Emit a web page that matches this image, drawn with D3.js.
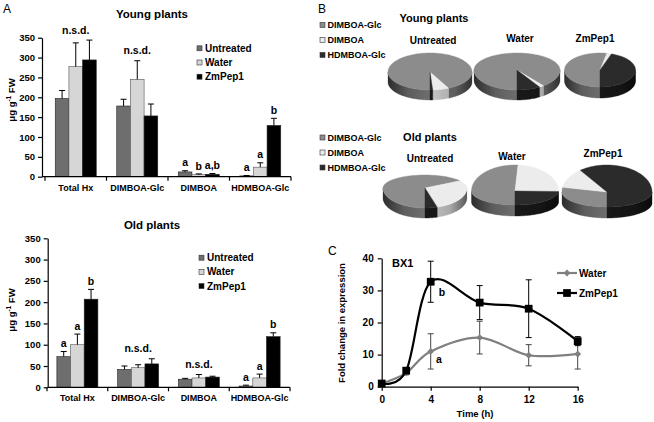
<!DOCTYPE html>
<html><head><meta charset="utf-8">
<script src="https://cdn.jsdelivr.net/npm/d3@7"></script>
<style>
body{margin:0;background:#fff}
svg{display:block}
text{font-family:"Liberation Sans",Arial,sans-serif;font-weight:bold;fill:#000}
</style>
</head><body>
<svg id="chart" width="654" height="422"></svg>
<script>
// ---------- DATA ----------
const categories = ["Total Hx", "DIMBOA-Glc", "DIMBOA", "HDMBOA-Glc"];
const treatments = ["Untreated", "Water", "ZmPep1"];
const yTicks = [0, 50, 100, 150, 200, 250, 300, 350];

const youngUntreated = [197, 178, 12, 2];
const youngUntreatedErr = [20, 17, 3, 1];
const youngWater = [277, 245, 5, 24];
const youngWaterErr = [60, 47, 2, 11];
const youngZmPep1 = [294, 153, 6, 129];
const youngZmPep1Err = [50, 30, 2, 18];
const youngLetters = ["n.s.d.", "n.s.d.", ["a", "b", "a,b"], ["a", "a", "b"]];

const oldUntreated = [72, 42, 19, 3];
const oldUntreatedErr = [12, 8, 2, 2];
const oldWater = [100, 46, 22, 22];
const oldWaterErr = [25, 7, 8, 9];
const oldZmPep1 = [207, 55, 24, 119];
const oldZmPep1Err = [23, 12, 2, 9];
const oldLetters = [["a", "a", "b"], "n.s.d.", "n.s.d.", ["a", "a", "b"]];

const pieComponents = ["DIMBOA-Glc", "DIMBOA", "HDMBOA-Glc"];

const hours = [0, 2, 4, 8, 12, 16];
const waterFold = [1, 4.3, 11, 15.3, 9.8, 10.2];
const waterFoldErr = [0.3, 0.6, 5.5, 5.1, 3.3, 4.7];
const zmFold = [1, 5, 32.7, 26.2, 24.3, 14.2];
const zmFoldErr = [0.3, 0.8, 6.4, 5.3, 9, 1.4];
const foldTicks = [0, 10, 20, 30, 40];
const hourTicks = [0, 4, 8, 12, 16];

// ---------- STYLE ----------
const barColors = ["#6e6e6e", "#d6d6d6", "#000000"];
const pieColors = ["#8c8c8c", "#ececec", "#2b2b2b"];
const sideColors = ["#6e6e6e", "#c6c6c6", "#181818"];

const svg = d3.select("#chart");
svg.append("rect").attr("width", 654).attr("height", 422).attr("fill", "#fff");

function styleAxis(g, fs) {
  g.attr("font-size", fs);
  g.selectAll("text").attr("font-size", fs);
  g.selectAll("path,line").attr("stroke", "#000").attr("stroke-width", 1.2);
}

// ---------- PANEL A ----------
function barPanel(cfg) {
  const y = d3.scaleLinear().domain([0, 350]).range([cfg.y0, cfg.yTop]);
  const x = d3.scaleBand().domain(categories).range(cfg.xRange);
  const groupW = 41;
  const xs = d3.scaleBand().domain(treatments).range([0, groupW]);
  const off = (x.bandwidth() - groupW) / 2;
  const g = svg.append("g");
  const barX = (ci, ti) => x(categories[ci]) + off + xs(treatments[ti]);

  cfg.series.forEach((vals, ti) => {
    const errs = cfg.errs[ti];
    g.selectAll(null).data(vals).join("rect")
      .attr("x", (d, i) => barX(i, ti))
      .attr("y", d => y(d))
      .attr("width", xs.bandwidth())
      .attr("height", d => y(0) - y(d))
      .attr("fill", barColors[ti])
      .attr("stroke", ti === 1 ? "#555" : "#222").attr("stroke-width", 0.6);
    const eg = g.selectAll(null).data(vals).join("g");
    eg.append("line")
      .attr("x1", (d, i) => barX(i, ti) + xs.bandwidth() / 2)
      .attr("x2", (d, i) => barX(i, ti) + xs.bandwidth() / 2)
      .attr("y1", d => y(d)).attr("y2", (d, i) => y(d + errs[i]))
      .attr("stroke", "#000").attr("stroke-width", 1);
    eg.append("line")
      .attr("x1", (d, i) => barX(i, ti) + xs.bandwidth() / 2 - 3)
      .attr("x2", (d, i) => barX(i, ti) + xs.bandwidth() / 2 + 3)
      .attr("y1", (d, i) => y(d + errs[i])).attr("y2", (d, i) => y(d + errs[i]))
      .attr("stroke", "#000").attr("stroke-width", 1);
  });

  // letters
  cfg.letters.forEach((L, ci) => {
    if (typeof L === "string") {
      const top = d3.min(cfg.series.map((s, ti) => y(s[ci] + cfg.errs[ti][ci])));
      g.append("text").attr("x", x(categories[ci]) + x.bandwidth() / 2).attr("y", top - 10)
        .attr("dy", "0.35em").attr("text-anchor", "middle").attr("font-size", 10.5).text(L);
    } else {
      L.forEach((t, ti) => {
        const v = cfg.series[ti][ci] + cfg.errs[ti][ci];
        g.append("text").attr("x", barX(ci, ti) + xs.bandwidth() / 2).attr("y", y(v) - 8)
          .attr("dy", "0.35em").attr("text-anchor", "middle").attr("font-size", 10.5).text(t);
      });
    }
  });

  // y axis
  g.append("g").attr("transform", `translate(${cfg.axisX},0)`)
    .call(d3.axisLeft(y).tickValues(yTicks).tickSize(4).tickSizeOuter(0).tickPadding(3))
    .call(a => styleAxis(a, 9.5));
  // x axis
  const xa = g.append("g").attr("transform", `translate(0,${cfg.y0})`);
  xa.append("line").attr("x1", cfg.axisX).attr("x2", cfg.xRange[1]).attr("y1", 0).attr("y2", 0)
    .attr("stroke", "#000").attr("stroke-width", 1.2);
  xa.selectAll(null).data(categories.concat(["_end"])).join("line")
    .attr("x1", (d, i) => i < categories.length ? x(d) : cfg.xRange[1])
    .attr("x2", (d, i) => i < categories.length ? x(d) : cfg.xRange[1])
    .attr("y1", 0).attr("y2", 4).attr("stroke", "#000").attr("stroke-width", 1.2);
  xa.selectAll(null).data(categories).join("text")
    .attr("x", d => x(d) + x.bandwidth() / 2).attr("y", 14)
    .attr("text-anchor", "middle").attr("font-size", 9).text(d => d);

  // y label
  const yl = g.append("text")
    .attr("transform", `translate(${cfg.ylabelX},${cfg.ylabelY}) rotate(-90)`)
    .attr("text-anchor", "middle").attr("font-size", 9.5);
  yl.append("tspan").text("μg g");
  yl.append("tspan").attr("font-size", 6.5).attr("dy", -4).text("-1");
  yl.append("tspan").attr("dy", 4).text(" FW");

  // title
  g.append("text").attr("x", 152).attr("y", cfg.titleY).attr("dy", "0.35em")
    .attr("text-anchor", "middle").attr("font-size", 11.5).text(cfg.title);

  // legend
  treatments.forEach((t, ti) => {
    const ly = cfg.legendY + ti * 14.2;
    g.append("rect").attr("x", cfg.legendX).attr("y", ly - 2.5).attr("width", 5).attr("height", 5)
      .attr("fill", barColors[ti]).attr("stroke", "#333").attr("stroke-width", 0.6);
    g.append("text").attr("x", cfg.legendX + 8).attr("y", ly).attr("dy", "0.35em")
      .attr("font-size", 10).text(t);
  });
}

barPanel({
  y0: 176.7, yTop: 37.7, axisX: 42, xRange: [45, 291],
  series: [youngUntreated, youngWater, youngZmPep1],
  errs: [youngUntreatedErr, youngWaterErr, youngZmPep1Err],
  letters: youngLetters, title: "Young plants", titleY: 14.3,
  legendX: 197, legendY: 48.3, ylabelX: 14.5, ylabelY: 100
});
barPanel({
  y0: 387.3, yTop: 238.3, axisX: 47.7, xRange: [47, 290],
  series: [oldUntreated, oldWater, oldZmPep1],
  errs: [oldUntreatedErr, oldWaterErr, oldZmPep1Err],
  letters: oldLetters, title: "Old plants", titleY: 224.5,
  legendX: 199, legendY: 257.7, ylabelX: 15, ylabelY: 310
});

svg.append("text").attr("x", 3).attr("y", 13).attr("font-size", 12).attr("font-weight", "normal")
  .style("font-weight", "normal").text("A");

// ---------- PANEL B ----------
const defs = svg.append("defs");
const grad = defs.append("linearGradient").attr("id", "shade").attr("x1", 0).attr("x2", 1).attr("y1", 0).attr("y2", 0);
[[0, 0.6], [0.25, 0.15], [0.5, 0], [0.8, 0.15], [1, 0.55]].forEach(([o, a]) =>
  grad.append("stop").attr("offset", o).attr("stop-color", "#000").attr("stop-opacity", a));

svg.append("text").attr("x", 318).attr("y", 13).attr("font-size", 12)
  .style("font-weight", "normal").text("B");

const pieGen = d3.pie().sort(null).startAngle(Math.PI).endAngle(3 * Math.PI);

function drawPie(p, vals) {
  const g = svg.append("g");
  const pt = (th, dy = 0) => {
    const c = Math.cos(th);
    return [p.cx + p.rx * Math.sin(th), p.cy - (c > 0 ? p.ryT : p.ryB) * c + dy];
  };
  const arcPts = (a, b, dy = 0) => {
    const n = Math.max(2, Math.ceil((b - a) / 0.03));
    return d3.range(n + 1).map(i => pt(a + (b - a) * i / n, dy));
  };
  const wallPath = (a, b) => {
    const top = arcPts(a, b), bot = arcPts(a, b, p.depth).reverse();
    return "M" + top.concat(bot).map(q => q.join(",")).join("L") + "Z";
  };
  const arcs = pieGen(vals);
  const fronts = [[Math.PI / 2, 1.5 * Math.PI], [2.5 * Math.PI, 3.5 * Math.PI]];
  arcs.forEach((a, i) => {
    fronts.forEach(([f0, f1]) => {
      const lo = Math.max(a.startAngle, f0), hi = Math.min(a.endAngle, f1);
      if (hi > lo) g.append("path").attr("d", wallPath(lo, hi))
        .attr("fill", sideColors[i]).attr("stroke", sideColors[i]).attr("stroke-width", 0.4);
    });
  });
  g.append("path").attr("d", wallPath(Math.PI / 2, 1.5 * Math.PI)).attr("fill", "url(#shade)");
  arcs.forEach((a, i) => {
    const pts = [[p.cx, p.cy]].concat(arcPts(a.startAngle, a.endAngle));
    g.append("path").attr("d", "M" + pts.map(q => q.join(",")).join("L") + "Z")
      .attr("fill", pieColors[i]).attr("stroke", pieColors[i]).attr("stroke-width", 0.4);
  });
  g.append("text").attr("x", p.lx).attr("y", p.ly).attr("dy", "0.35em")
    .attr("text-anchor", "middle").attr("font-size", 10).text(p.label);
}

const pies = [
  { label: "Untreated", lx: 433, ly: 40, cx: 430, cy: 72, rx: 42, ryT: 19, ryB: 18, depth: 10, vals: youngUntreated },
  { label: "Water", lx: 520, ly: 38, cx: 517, cy: 70, rx: 43, ryT: 17, ryB: 20, depth: 10, vals: youngWater },
  { label: "ZmPep1", lx: 595, ly: 38, cx: 600, cy: 70, rx: 35.5, ryT: 17, ryB: 17, depth: 11, vals: youngZmPep1 },
  { label: "Untreated", lx: 430, ly: 158, cx: 425, cy: 188, rx: 42, ryT: 13, ryB: 20, depth: 10, vals: oldUntreated },
  { label: "Water", lx: 512, ly: 156, cx: 515, cy: 191, rx: 43.5, ryT: 26, ryB: 14, depth: 11, vals: oldWater },
  { label: "ZmPep1", lx: 603, ly: 153, cx: 607, cy: 192, rx: 45, ryT: 27, ryB: 15, depth: 11, vals: oldZmPep1 }
];
pies.forEach(p => drawPie(p, p.vals.slice(1)));

[["Young plants", 434, 18, 25], ["Old plants", 430, 137, 137.5]].forEach(([t, tx, ty, ly0]) => {
  svg.append("text").attr("x", tx).attr("y", ty).attr("dy", "0.35em").attr("text-anchor", "middle")
    .attr("font-size", 11).text(t);
  pieComponents.forEach((c, i) => {
    const ly = ly0 + i * 15;
    svg.append("rect").attr("x", 320).attr("y", ly - 2.5).attr("width", 5).attr("height", 5)
      .attr("fill", pieColors[i]).attr("stroke", "#333").attr("stroke-width", 0.6);
    svg.append("text").attr("x", 327.5).attr("y", ly).attr("dy", "0.35em").attr("font-size", 9).text(c);
  });
});

// ---------- PANEL C ----------
svg.append("text").attr("x", 328).attr("y", 254.5).attr("font-size", 12)
  .style("font-weight", "normal").text("C");
{
  const x = d3.scaleLinear().domain([0, 16]).range([381.7, 577.7]);
  const y = d3.scaleLinear().domain([0, 40]).range([386.7, 258.3]);
  const g = svg.append("g");
  g.append("g").attr("transform", "translate(381.7,0)")
    .call(d3.axisLeft(y).tickValues(foldTicks).tickSize(4).tickSizeOuter(0).tickPadding(4))
    .call(a => styleAxis(a, 10));
  g.append("g").attr("transform", "translate(0,386.7)")
    .call(d3.axisBottom(x).tickValues(hourTicks).tickSize(4).tickSizeOuter(0).tickPadding(5))
    .call(a => styleAxis(a, 10));
  g.append("text").attr("x", 475).attr("y", 414).attr("dy", "0.35em").attr("text-anchor", "middle")
    .attr("font-size", 9.5).text("Time (h)");
  g.append("text").attr("transform", "translate(342,323) rotate(-90)").attr("dy", "0.35em")
    .attr("text-anchor", "middle").attr("font-size", 9.5).text("Fold change in expression");
  g.append("text").attr("x", 392).attr("y", 263).attr("dy", "0.35em").attr("font-size", 11).text("BX1");

  const series = [
    { name: "Water", v: waterFold, e: waterFoldErr, color: "#808080", ecol: "#444", marker: "diamond", ly: 273 },
    { name: "ZmPep1", v: zmFold, e: zmFoldErr, color: "#000", ecol: "#000", marker: "square", ly: 293 }
  ];
  const line = d3.line().x(d => x(d[0])).y(d => y(d[1])).curve(d3.curveCatmullRom.alpha(0));
  series.forEach(s => {
    const pts = hours.map((h, i) => [h, s.v[i], s.e[i]]);
    const eg = g.selectAll(null).data(pts).join("g");
    eg.append("line").attr("x1", d => x(d[0])).attr("x2", d => x(d[0]))
      .attr("y1", d => y(d[1] - d[2])).attr("y2", d => y(d[1] + d[2]))
      .attr("stroke", s.ecol).attr("stroke-width", 1);
    [-1, 1].forEach(sg => eg.append("line")
      .attr("x1", d => x(d[0]) - 3).attr("x2", d => x(d[0]) + 3)
      .attr("y1", d => y(d[1] + sg * d[2])).attr("y2", d => y(d[1] + sg * d[2]))
      .attr("stroke", s.ecol).attr("stroke-width", 1));
  });
  series.forEach(s => {
    const pts = hours.map((h, i) => [h, s.v[i]]);
    g.append("path").attr("d", line(pts)).attr("fill", "none").attr("stroke", s.color).attr("stroke-width", 2.2);
    const sym = s.marker === "diamond" ? d3.symbol(d3.symbolDiamond2, 30) : d3.symbol(d3.symbolSquare, 60);
    g.selectAll(null).data(pts).join("path").attr("d", sym)
      .attr("transform", d => `translate(${x(d[0])},${y(d[1])})`).attr("fill", s.color);
    g.append("line").attr("x1", 557).attr("x2", 577).attr("y1", s.ly).attr("y2", s.ly)
      .attr("stroke", s.color).attr("stroke-width", 2.2);
    g.append("path").attr("d", sym).attr("transform", `translate(567,${s.ly})`).attr("fill", s.color);
    g.append("text").attr("x", 579).attr("y", s.ly).attr("dy", "0.35em").attr("font-size", 10).text(s.name);
  });
  g.append("text").attr("x", 442).attr("y", 292).attr("dy", "0.35em").attr("text-anchor", "middle")
    .attr("font-size", 10.5).text("b");
  g.append("text").attr("x", 439).attr("y", 359).attr("dy", "0.35em").attr("text-anchor", "middle")
    .attr("font-size", 10.5).text("a");
}
</script>
</body></html>
